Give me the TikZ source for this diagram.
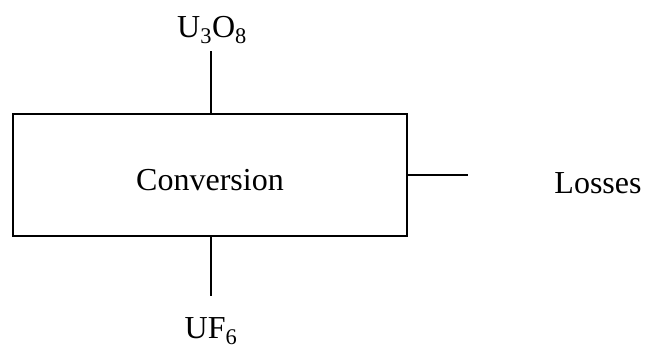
\documentclass[tikz,border=0pt]{standalone}
\usepackage{fontspec}
\setmainfont{Liberation Serif}
\begin{document}
\begin{tikzpicture}[x=1pt,y=-1pt,
  lbl/.style={inner sep=0pt,font=\fontsize{32}{36}\selectfont},
  ln/.style={line width=2pt}]
\useasboundingbox (0,0) rectangle (646,351);
\node[draw,ln,minimum width=394pt,minimum height=122pt,inner sep=0pt,anchor=north west] (box) at (12,113) {};
\node[lbl] (conv) at (210,180) {Conversion};
\node[lbl,anchor=base] (u) at (212,37) {U\textsubscript{3}O\textsubscript{8}};
\node[lbl,anchor=base] (uf) at (211,338) {UF\textsubscript{6}};
\node[lbl,anchor=base] (loss) at (598,193) {Losses};
\coordinate (utop) at (211,51);
\coordinate (ubot) at (211,296);
\coordinate (rend) at (468,175);
\draw[ln] (utop) -- (utop |- box.north);
\draw[ln] (ubot |- box.south) -- (ubot);
\draw[ln] (box.east |- rend) -- (rend);
\end{tikzpicture}
\end{document}
